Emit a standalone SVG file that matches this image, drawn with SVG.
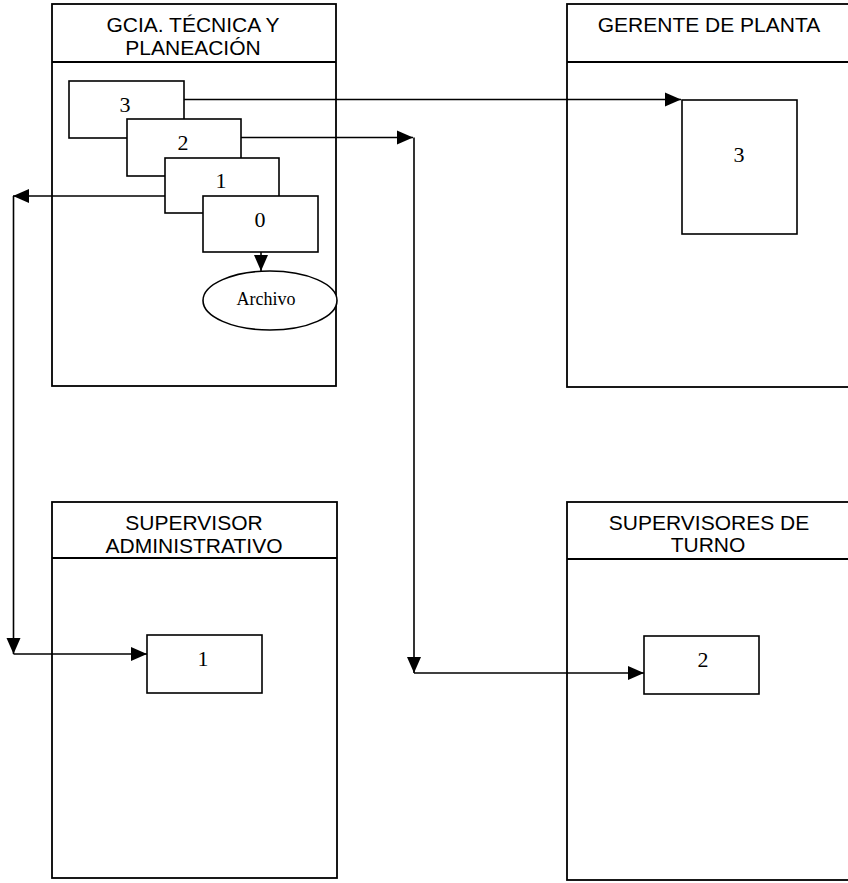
<svg xmlns="http://www.w3.org/2000/svg" width="848" height="883" viewBox="0 0 848 883">
<style>
.lane{fill:#fff;stroke:#000;stroke-width:1.8}
.box{fill:#fff;stroke:#000;stroke-width:1.6}
.hdr{font-family:"Liberation Sans",Arial,sans-serif;font-size:21px;text-anchor:middle;fill:#000}
.num{font-family:"Liberation Serif","Times New Roman",serif;font-size:22px;text-anchor:middle;fill:#000}
.lbl{font-family:"Liberation Serif","Times New Roman",serif;font-size:18px;text-anchor:middle;fill:#000}
.conn{fill:none;stroke:#000;stroke-width:1.6}
</style>
<defs>
<marker id="arr" markerUnits="userSpaceOnUse" markerWidth="16" markerHeight="16" viewBox="0 0 16 14" refX="16" refY="7" orient="auto">
<path d="M0,0 L16,7 L0,14 Z" fill="#000"/>
</marker>
</defs>
<rect width="848" height="883" fill="#fff"/>

<g id="lane-gcia">
<rect class="lane" x="52" y="4" width="284" height="382"/>
<line class="lane" x1="52" y1="62" x2="336" y2="62"/>
<text class="hdr" x="193" y="32">GCIA. TÉCNICA Y</text>
<text class="hdr" x="193" y="55">PLANEACIÓN</text>
</g>
<g id="lane-gerente">
<rect class="lane" x="567" y="4" width="290" height="383"/>
<line class="lane" x1="567" y1="62" x2="857" y2="62"/>
<text class="hdr" x="709" y="32">GERENTE DE PLANTA</text>
</g>
<g id="lane-supadmin">
<rect class="lane" x="52" y="502" width="285" height="376"/>
<line class="lane" x1="52" y1="558" x2="337" y2="558"/>
<text class="hdr" x="194" y="530">SUPERVISOR</text>
<text class="hdr" x="194" y="553">ADMINISTRATIVO</text>
</g>
<g id="lane-supturno">
<rect class="lane" x="567" y="502" width="290" height="378"/>
<line class="lane" x1="567" y1="559" x2="857" y2="559"/>
<text class="hdr" x="709" y="530">SUPERVISORES DE</text>
<text class="hdr" x="708" y="552">TURNO</text>
</g>

<g id="doc3">
<rect class="box" x="69" y="81" width="115" height="57"/>
<text class="num" x="125" y="112">3</text>
</g>
<g id="doc2">
<rect class="box" x="127" y="119" width="114" height="57"/>
<text class="num" x="183" y="150">2</text>
</g>
<g id="doc1">
<rect class="box" x="165" y="158" width="114" height="55"/>
<text class="num" x="221" y="188">1</text>
</g>
<g id="doc0">
<rect class="box" x="203" y="196" width="115" height="56"/>
<text class="num" x="260" y="227">0</text>
</g>
<g id="archivo">
<ellipse class="box" cx="270" cy="300.5" rx="67" ry="29.5"/>
<text class="lbl" x="266" y="305">Archivo</text>
</g>
<g id="gerente-3">
<rect class="box" x="682" y="100" width="115" height="134"/>
<text class="num" x="739" y="162">3</text>
</g>
<g id="admin-1">
<rect class="box" x="147" y="635" width="115" height="58"/>
<text class="num" x="203" y="666">1</text>
</g>
<g id="turno-2">
<rect class="box" x="644" y="636" width="115" height="58"/>
<text class="num" x="703" y="667">2</text>
</g>

<g id="connectors">
<path class="conn" d="M184,99.5 H681" marker-end="url(#arr)"/>
<path class="conn" d="M241,137.5 H413" marker-end="url(#arr)"/>
<path class="conn" d="M414,137.5 V673" marker-end="url(#arr)"/>
<path class="conn" d="M414,673 H644" marker-end="url(#arr)"/>
<path class="conn" d="M165,196 H13" marker-end="url(#arr)"/>
<path class="conn" d="M13.5,196 V654" marker-end="url(#arr)"/>
<path class="conn" d="M13.5,654 H147" marker-end="url(#arr)"/>
<path class="conn" d="M261,252 V271" marker-end="url(#arr)"/>
</g>
</svg>
